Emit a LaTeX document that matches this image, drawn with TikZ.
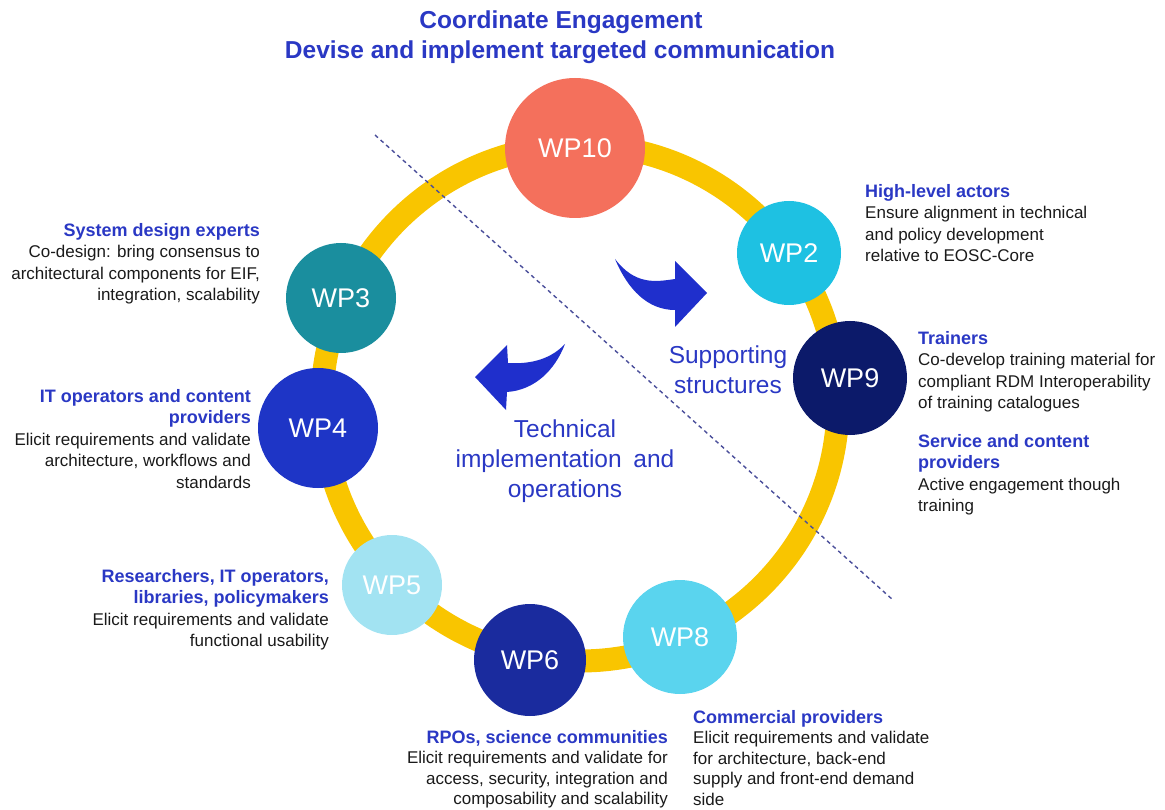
\documentclass[tikz,border=0pt]{standalone}
\usepackage{fontspec}
\setmainfont{Liberation Sans}
\usetikzlibrary{calc}
\definecolor{hblue}{HTML}{2A38C4}
\definecolor{arrowblue}{HTML}{1F2FCC}
\definecolor{ringyellow}{HTML}{F9C500}
\definecolor{bodytxt}{HTML}{1A1A1A}
\definecolor{dashc}{HTML}{4A4E9A}
\definecolor{cWPten}{HTML}{F4705C}
\definecolor{cWPtwo}{HTML}{1EC1E2}
\definecolor{cWPthree}{HTML}{1A8E9E}
\definecolor{cWPfour}{HTML}{1E35C6}
\definecolor{cWPfive}{HTML}{A2E3F2}
\definecolor{cWPsix}{HTML}{1A2B9E}
\definecolor{cWPeight}{HTML}{5AD4EE}
\definecolor{cWPnine}{HTML}{0C1A6A}
\newcommand{\headtxt}[1]{{\color{hblue}\bfseries\fontsize{18}{21.5}\selectfont #1}}
\newcommand{\headtxtb}[1]{{\color{hblue}\bfseries\fontsize{18}{20.5}\selectfont #1}}
\tikzset{
  wp/.style={circle, inner sep=0pt, text=white, font=\fontsize{27}{30}\selectfont},
  blockr/.style={anchor=north east, inner sep=0pt, align=right, text=bodytxt, font=\fontsize{17}{21.5}\selectfont},
  blockl/.style={anchor=north west, inner sep=0pt, align=left, text=bodytxt, font=\fontsize{17}{21.5}\selectfont},
  tight/.style={font=\fontsize{17}{20.5}\selectfont},
  titletxt/.style={text=hblue, font=\bfseries\fontsize{24.5}{28}\selectfont, inner sep=0pt},
  areatxt/.style={text=hblue, font=\fontsize{24.5}{30}\selectfont, align=center, inner sep=0pt},
  bigarrow/.style={fill=arrowblue, draw=none}
}
\begin{document}
\begin{tikzpicture}[x=1pt,y=-1pt]
\useasboundingbox (0,0) rectangle (1165,810);

% title
\node[titletxt] (t1) at (561,22) {Coordinate Engagement};
\node[titletxt] (t2) at (560,52) {Devise and implement targeted communication};

% ring
\coordinate (rc) at (580,403);
\draw[ringyellow, line width=23pt] (rc) circle[radius=258];

% dividing line
\coordinate (d1) at (375,135);
\coordinate (d2) at (893,600);
\draw[dashc, line width=1.4pt, dash pattern=on 4pt off 3.5pt] (d1) -- (d2);

% work packages
\node[wp, fill=cWPten,   minimum size=140pt] (wp10) at (575,148) {WP10};
\node[wp, fill=cWPtwo,   minimum size=104pt] (wp2)  at (789,253) {WP2};
\node[wp, fill=cWPthree, minimum size=110pt] (wp3)  at (341,298) {WP3};
\node[wp, fill=cWPfour,  minimum size=120pt] (wp4)  at (318,428) {WP4};
\node[wp, fill=cWPfive,  minimum size=100pt] (wp5)  at (392,585) {WP5};
\node[wp, fill=cWPsix,   minimum size=112pt] (wp6)  at (530,660) {WP6};
\node[wp, fill=cWPeight, minimum size=114pt] (wp8)  at (680,637) {WP8};
\node[wp, fill=cWPnine,  minimum size=114pt] (wp9)  at (850,378) {WP9};

% curved block arrows
\fill[bigarrow] (615,259) .. controls (635,285) and (655,282) .. (675,279)
  -- (675,261) -- (707,293) -- (675,327) -- (675,310)
  .. controls (648,310) and (628,290) .. cycle;
\fill[bigarrow] (565,344) .. controls (548,362) and (525,364) .. (508,363)
  -- (507,345) -- (475,377) -- (506,410) -- (507,392)
  .. controls (535,390) and (555,370) .. cycle;

% area labels
\node[areatxt] (sup) at (728,370) {Supporting\\structures};
\node[areatxt] (tech) at (565,461) {Technical\\implementation\hspace{5pt} and\\operations};

% stakeholder descriptions
\node[blockr] (b3) at (260,223) {\headtxt{System design experts}\\Co-design: bring consensus to\\architectural components for EIF,\\integration, scalability};
\node[blockl] (b2) at (865,184) {\headtxt{High-level actors}\\Ensure alignment in technical\\and policy development\\relative to EOSC-Core};
\node[blockl] (b9a) at (918,331) {\headtxt{Trainers}\\Co-develop training material for\\compliant RDM Interoperability\\of training catalogues};
\node[blockl] (b9b) at (918,434) {\headtxt{Service and content}\\\headtxt{providers}\\Active engagement though\\training};
\node[blockr] (b4) at (251,389) {\headtxt{IT operators and content}\\\headtxt{providers}\\Elicit requirements and validate\\architecture, workflows and\\standards};
\node[blockr] (b5) at (329,569) {\headtxt{Researchers, IT operators,}\\\headtxt{libraries, policymakers}\\Elicit requirements and validate\\functional usability};
\node[blockr, tight] (b6) at (668,730) {\headtxtb{RPOs, science communities}\\Elicit requirements and validate for\\access, security, integration and\\composability and scalability};
\node[blockl, tight] (b8) at (693,710) {\headtxtb{Commercial providers}\\Elicit requirements and validate\\for architecture, back-end\\supply and front-end demand\\side};
\end{tikzpicture}
\end{document}
